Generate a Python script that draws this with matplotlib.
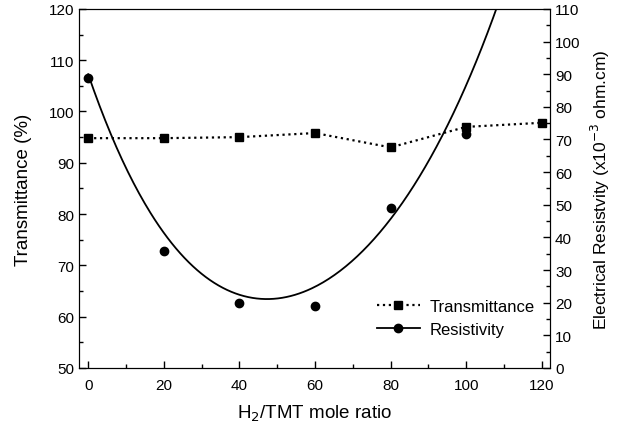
import numpy as np
import matplotlib
matplotlib.use("Agg")
import matplotlib.pyplot as plt
from matplotlib.lines import Line2D
from matplotlib.ticker import MultipleLocator

plt.rcParams["font.family"] = ["Liberation Sans", "DejaVu Sans"]

ratio = [0, 20, 40, 60, 80, 100, 120]
transmittance = [94.8, 94.8, 95.0, 95.8, 93.0, 97.0, 97.8]
res_ratio = [0, 20, 40, 60, 80, 100]
resistivity = [88.8, 35.8, 19.9, 19.0, 49.0, 71.7]
# points
fit_x = [0, 7, 19, 43, 48, 59.5, 80, 95.3, 107.7]
fit_y = [89.2, 70.2, 42.6, 22.1, 20.3, 23.7, 48.5, 72.2, 110.0]

fig = plt.figure(figsize=(6.23, 4.31), dpi=100)
ax = fig.add_axes([0.127, 0.144, 0.756, 0.833])
ax2 = ax.twinx()

ax.plot(ratio, transmittance, ls=":", lw=1.6, color="black",
        marker="s", ms=5.5)

# smooth polynomial through the read-off curve points
coef = np.polyfit(fit_x, fit_y, 4)
xf = np.linspace(0, 112, 300)
ax2.plot(xf, np.polyval(coef, xf), "-", lw=1.3, color="black")
ax2.plot(res_ratio, resistivity, "o", color="black", ms=6)

ax.set_xlim(-2.4, 122.2)
ax.set_ylim(50, 120)
ax2.set_ylim(0, 110)

ax.xaxis.set_major_locator(MultipleLocator(20))
ax.xaxis.set_minor_locator(MultipleLocator(10))
ax.yaxis.set_major_locator(MultipleLocator(10))
ax.yaxis.set_minor_locator(MultipleLocator(5))
ax2.yaxis.set_major_locator(MultipleLocator(10))
ax2.yaxis.set_minor_locator(MultipleLocator(5))

for a in (ax, ax2):
    a.tick_params(which="both", direction="in", labelsize=11, width=1)
    a.tick_params(which="major", length=5)
    a.tick_params(which="minor", length=3)
ax.tick_params(axis="x", which="both", top=False, pad=7)
ax.tick_params(axis="y", which="both", right=False)

ax.set_xlabel("H$_2$/TMT mole ratio", fontsize=13.5, labelpad=8)
ax.set_ylabel("Transmittance (%)", fontsize=13.5, labelpad=12)
ax2.set_ylabel("Electrical Resistvity (x10$^{-3}$ ohm.cm)", fontsize=12.5, labelpad=6)

handles = [
    Line2D([], [], ls=":", lw=1.6, color="black", marker="s", ms=5.5),
    Line2D([], [], ls="-", lw=1.3, color="black", marker="o", ms=6),
]
ax.legend(handles, ["Transmittance", "Resistivity"], loc="lower right",
          bbox_to_anchor=(1.0, 0.045), frameon=False, fontsize=12,
          handlelength=2.6, labelspacing=0.45, handletextpad=0.6)

fig.savefig("out.png", dpi=100)
